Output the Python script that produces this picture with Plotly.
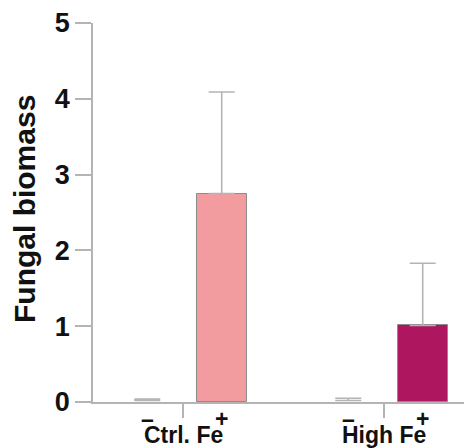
import plotly.graph_objects as go

# Data
groups = ["Ctrl. Fe", "High Fe"]
conditions = ["–", "+"]
means = [[0.02, 2.75], [0.02, 1.01]]
errors = [[0.02, 1.34], [0.03, 0.82]]
bar_colors = [["rgba(255,255,255,0)", "#F29CA0"], ["rgba(255,255,255,0)", "#AE1760"]]
edge_colors = [["rgba(0,0,0,0)", "#8c8c8c"], ["rgba(0,0,0,0)", "#8c8c8c"]]

GROUP_OFFSET = 2.7
xs, ys, es, cols, edges = [], [], [], [], []
for gi, g in enumerate(groups):
    for ci, c in enumerate(conditions):
        xs.append(gi * GROUP_OFFSET + ci)
        ys.append(means[gi][ci])
        es.append(errors[gi][ci])
        cols.append(bar_colors[gi][ci])
        edges.append(edge_colors[gi][ci])

group_centers = [gi * GROUP_OFFSET + 0.48 for gi in range(len(groups))]

AX = "#b4b4b4"
FONT = "Liberation Sans, Arial, sans-serif"

fig = go.Figure()
fig.add_trace(go.Bar(
    x=xs, y=ys, width=0.67,
    marker=dict(color=cols, line=dict(color=edges, width=1)),
    error_y=dict(type="data", symmetric=False, array=es,
                 arrayminus=[0] * len(es), color=AX, thickness=1.6, width=13),
    showlegend=False, hoverinfo="skip",
))

OFF = 8  # page body margin
W, H = 472 - OFF, 448 - OFF
L, R, T, B = 85, 0, 13, 46
pw = W - L - R
ph = H - T - B

def py(pix):
    return (H - B - (pix - OFF)) / ph

def px(pix):
    return (pix - OFF - L) / pw

annotations = []
for gi, g in enumerate(groups):
    for ci, c in enumerate(conditions):
        annotations.append(dict(
            x=gi * GROUP_OFFSET + ci, xref="x", y=py(419), yref="paper",
            text=c, showarrow=False, xanchor="center", yanchor="middle",
            font=dict(family=FONT, size=23, color="#111", weight="bold")))
    annotations.append(dict(
        x=group_centers[gi], xref="x", y=py(435), yref="paper",
        text=g, showarrow=False, xanchor="center", yanchor="middle",
        font=dict(family=FONT, size=23, color="#111", weight="bold")))

annotations.append(dict(
    x=px(24), xref="paper", y=py(208), yref="paper",
    text="Fungal biomass", textangle=-90, showarrow=False,
    xanchor="center", yanchor="middle",
    font=dict(family=FONT, size=30, color="#111", weight="bold")))

fig.update_layout(
    width=W, height=H,
    margin=dict(l=L, r=R, t=T, b=B, pad=0),
    plot_bgcolor="white", paper_bgcolor="white",
    bargap=0,
    annotations=annotations,
)
fig.update_xaxes(
    range=[-0.729, 4.362], showgrid=False, zeroline=False,
    showline=True, linecolor=AX, linewidth=1.6,
    ticks="outside", ticklen=14, tickwidth=1.6, tickcolor=AX,
    tickvals=group_centers, showticklabels=False,
)
fig.update_yaxes(
    range=[0, 5], showgrid=False, zeroline=False,
    showline=True, linecolor=AX, linewidth=1.6,
    ticks="outside", ticklen=16, tickwidth=1.6, tickcolor=AX,
    tickvals=[0, 1, 2, 3, 4, 5], ticklabeloverflow="allow",
    tickfont=dict(family=FONT, size=27, color="#111", weight="bold"),
)

fig.write_html("out.html")
